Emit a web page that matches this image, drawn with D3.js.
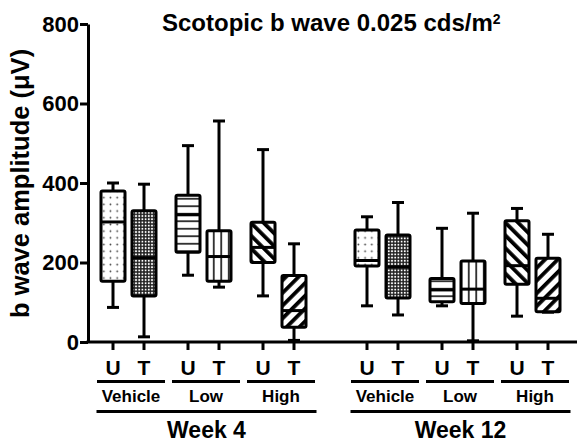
<!DOCTYPE html>
<html>
<head>
<meta charset="utf-8">
<script src="https://cdn.jsdelivr.net/npm/d3@7"></script>
<style>
  html, body { margin: 0; padding: 0; background: #fff; }
  svg { display: block; font-family: "Liberation Sans", Arial, sans-serif; font-weight: bold; }
</style>
</head>
<body>
<svg id="chart" width="579" height="444"></svg>
<script>
// ---- data ----
const weeks = ["Week 4", "Week 12"];
const groups = ["Vehicle", "Low", "High"];
const treatments = ["U", "T"];
const yTicks = [0, 200, 400, 600, 800];
const title = "Scotopic b wave 0.025 cds/m";
const yLabel = "b wave amplitude (\u03BCV)";
// order: Week4 (Vehicle U,T; Low U,T; High U,T), Week12 (same)
const whiskerLow  = [87, 13, 168, 138, 116, 4, 91, 68, 91, 3, 65, 75];
const q1          = [153, 116, 226, 153, 200, 37, 191, 111, 101, 97, 145, 76];
const medians     = [302, 212, 320, 215, 238, 79, 205, 189, 131, 133, 192, 110];
const q3          = [380, 330, 369, 280, 301, 167, 282, 269, 160, 204, 305, 211];
const whiskerHigh = [400, 397, 494, 556, 484, 247, 315, 351, 286, 324, 336, 271];
const patterns    = ["dotsSparse", "dotsDense", "hStripes", "vStripes", "diagBack", "diagFwd"];

const boxes = [];
let k = 0;
weeks.forEach(w => groups.forEach(g => treatments.forEach(t => {
  boxes.push({week: w, group: g, treat: t, lo: whiskerLow[k], q1: q1[k], med: medians[k],
              q3: q3[k], hi: whiskerHigh[k], pat: patterns[groups.indexOf(g) * 2 + treatments.indexOf(t)]});
  k++;
})));

// ---- layout ----
const svg = d3.select("#chart");
const y = d3.scaleLinear().domain([0, 800]).range([342, 24]);
const weekX = d3.scalePoint().domain(weeks).range([203.5, 457.5]);
const groupOff = d3.scalePoint().domain(groups).range([-75, 75]);
const treatOff = d3.scalePoint().domain(treatments).range([-15.5, 15.5]);
const xPos = d => weekX(d.week) + groupOff(d.group) + treatOff(d.treat);
const SW = 3, boxW = 24, capW = 12;

// ---- patterns ----
const defs = svg.append("defs");
{
  const p = defs.append("pattern").attr("id", "dotsSparse").attr("patternUnits", "userSpaceOnUse")
    .attr("width", 6.7).attr("height", 6.7);
  p.append("rect").attr("width", 6.7).attr("height", 6.7).attr("fill", "#fff");
  p.append("circle").attr("cx", 3.3).attr("cy", 3.3).attr("r", 0.9).attr("fill", "#444");
}
{
  const p = defs.append("pattern").attr("id", "dotsDense").attr("patternUnits", "userSpaceOnUse")
    .attr("width", 3.2).attr("height", 3.2);
  p.append("rect").attr("width", 3.2).attr("height", 3.2).attr("fill", "#222");
  p.append("circle").attr("cx", 1.6).attr("cy", 1.6).attr("r", 1.0).attr("fill", "#fff");
}
{
  const p = defs.append("pattern").attr("id", "hStripes").attr("patternUnits", "userSpaceOnUse")
    .attr("width", 10).attr("height", 7.5);
  p.append("rect").attr("width", 10).attr("height", 7.5).attr("fill", "#fff");
  p.append("rect").attr("y", 3).attr("width", 10).attr("height", 1.5).attr("fill", "#000");
}
{
  const p = defs.append("pattern").attr("id", "vStripes").attr("patternUnits", "userSpaceOnUse")
    .attr("width", 7.5).attr("height", 10);
  p.append("rect").attr("width", 7.5).attr("height", 10).attr("fill", "#fff");
  p.append("rect").attr("x", 3).attr("width", 1.5).attr("height", 10).attr("fill", "#000");
}
[["diagBack", -45], ["diagFwd", 45]].forEach(([id, ang]) => {
  const p = defs.append("pattern").attr("id", id).attr("patternUnits", "userSpaceOnUse")
    .attr("width", 9).attr("height", 9).attr("patternTransform", `rotate(${ang})`);
  p.append("rect").attr("width", 9).attr("height", 9).attr("fill", "#fff");
  p.append("rect").attr("x", 0).attr("width", 3.8).attr("height", 9).attr("fill", "#000");
});

// ---- axes ----
const yAxis = svg.append("g").attr("transform", "translate(88,0)")
  .call(d3.axisLeft(y).tickValues(yTicks).tickSize(8).tickSizeOuter(0).tickPadding(1));
yAxis.select(".domain").attr("stroke", "#000").attr("stroke-width", SW);
yAxis.selectAll(".tick line").attr("stroke", "#000").attr("stroke-width", SW);
yAxis.selectAll(".tick text").attr("font-size", 22).attr("font-weight", "bold")
  .attr("font-family", "Liberation Sans, Arial, sans-serif").attr("fill", "#000");

// x axis baseline
svg.append("line").attr("x1", 86.5).attr("x2", 577).attr("y1", y(0)).attr("y2", y(0))
  .attr("stroke", "#000").attr("stroke-width", SW);
svg.selectAll(".xtick").data(boxes).join("line").attr("class", "xtick")
  .attr("x1", xPos).attr("x2", xPos).attr("y1", y(0)).attr("y2", y(0) + 8)
  .attr("stroke", "#000").attr("stroke-width", SW);

// ---- boxes ----
const bg = svg.selectAll(".box").data(boxes).join("g").attr("class", "box");
bg.append("line").attr("x1", xPos).attr("x2", xPos).attr("y1", d => y(d.lo)).attr("y2", d => y(d.hi))
  .attr("stroke", "#000").attr("stroke-width", SW);
bg.append("line").attr("x1", d => xPos(d) - capW / 2).attr("x2", d => xPos(d) + capW / 2)
  .attr("y1", d => y(d.hi)).attr("y2", d => y(d.hi)).attr("stroke", "#000").attr("stroke-width", SW);
bg.append("line").attr("x1", d => xPos(d) - capW / 2).attr("x2", d => xPos(d) + capW / 2)
  .attr("y1", d => y(d.lo)).attr("y2", d => y(d.lo)).attr("stroke", "#000").attr("stroke-width", SW);
bg.append("rect").attr("x", d => xPos(d) - boxW / 2).attr("width", boxW)
  .attr("y", d => y(d.q3)).attr("height", d => y(d.q1) - y(d.q3))
  .attr("rx", 1.5).attr("fill", d => `url(#${d.pat})`)
  .attr("stroke", "#000").attr("stroke-width", SW);
bg.append("line").attr("x1", d => xPos(d) - boxW / 2).attr("x2", d => xPos(d) + boxW / 2)
  .attr("y1", d => y(d.med)).attr("y2", d => y(d.med)).attr("stroke", "#000").attr("stroke-width", SW);

// ---- category labels ----
svg.selectAll(".tlab").data(boxes).join("text").attr("class", "tlab")
  .attr("x", xPos).attr("y", 375).attr("text-anchor", "middle").attr("font-size", 21)
  .text(d => d.treat);

const groupCells = [];
weeks.forEach(w => groups.forEach(g => groupCells.push({week: w, group: g})));
const gx = d => weekX(d.week) + groupOff(d.group) + 2.5;
svg.selectAll(".gline").data(groupCells).join("line").attr("class", "gline")
  .attr("x1", d => gx(d) - 34).attr("x2", d => gx(d) + 34).attr("y1", 381.5).attr("y2", 381.5)
  .attr("stroke", "#000").attr("stroke-width", SW);
svg.selectAll(".glab").data(groupCells).join("text").attr("class", "glab")
  .attr("x", gx).attr("y", 402).attr("text-anchor", "middle").attr("font-size", 17)
  .text(d => d.group);

const wx = w => weekX(w) + 3;
svg.selectAll(".wline").data(weeks).join("line").attr("class", "wline")
  .attr("x1", d => wx(d) - 110).attr("x2", d => wx(d) + 110).attr("y1", 411.5).attr("y2", 411.5)
  .attr("stroke", "#000").attr("stroke-width", SW);
svg.selectAll(".wlab").data(weeks).join("text").attr("class", "wlab")
  .attr("x", wx).attr("y", 438).attr("text-anchor", "middle").attr("font-size", 23)
  .text(d => d);

// ---- title & y label ----
const t = svg.append("text").attr("x", 162).attr("y", 31).attr("font-size", 24);
t.append("tspan").text(title);
t.append("tspan").attr("dy", -7).attr("font-size", 14).text("2");

svg.append("text").attr("transform", "translate(29,183.5) rotate(-90)")
  .attr("text-anchor", "middle").attr("font-size", 25.5).text(yLabel);
</script>
</body>
</html>
